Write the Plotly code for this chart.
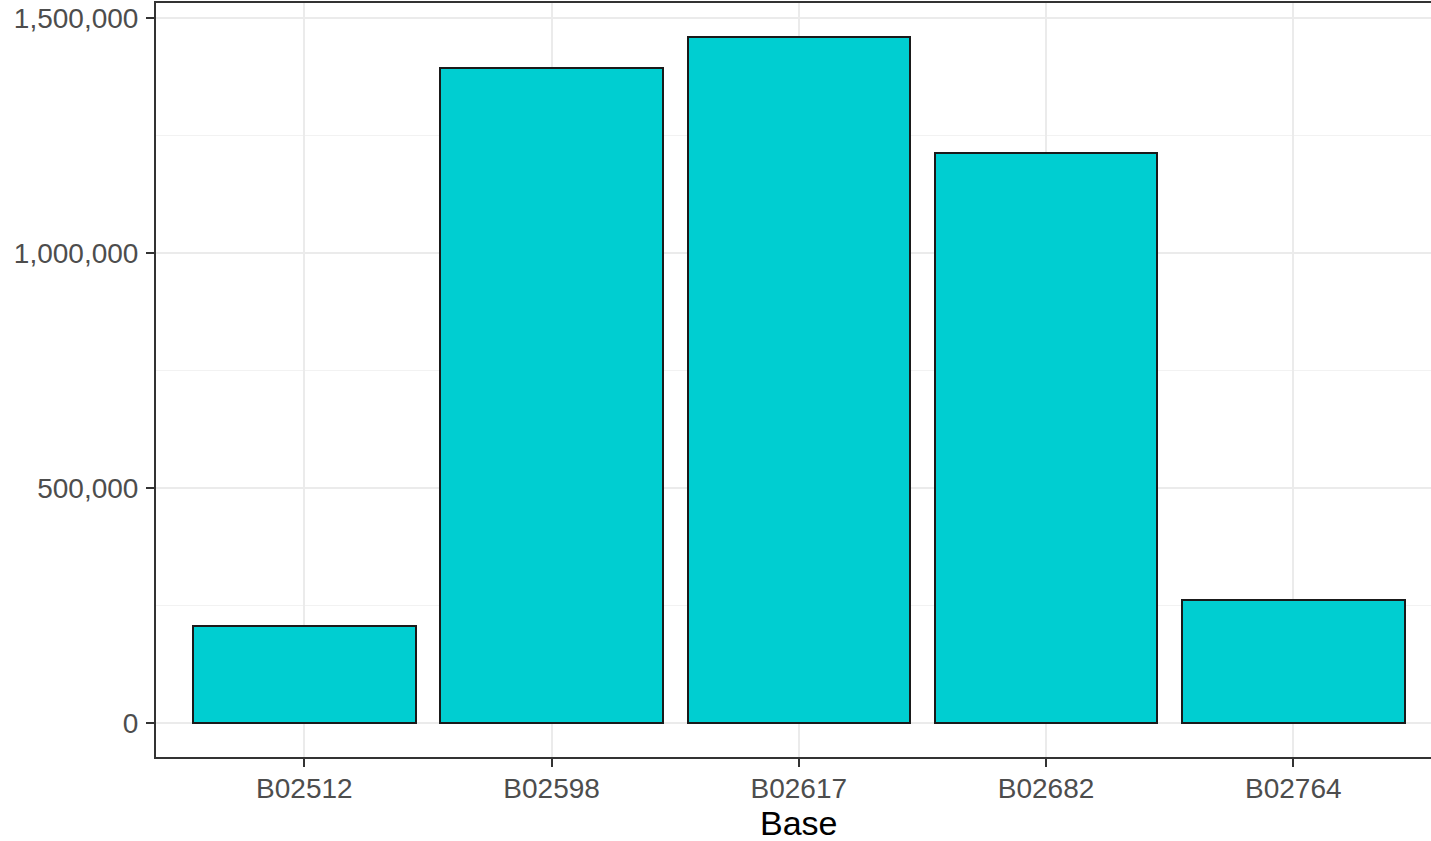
import plotly.graph_objects as go

bases = ["B02512", "B02598", "B02617", "B02682", "B02764"]
counts = [205673, 1393113, 1458853, 1212789, 262143]
x_title = "Base"

fig = go.Figure()
fig.add_trace(go.Bar(
    x=bases, y=counts, width=0.9,
    marker=dict(color="#00CED1", line=dict(color="#1a1a1a", width=2)),
))

ymax = max(counts)
pad = 0.05 * ymax

fig.update_layout(
    width=1431, height=841,
    margin=dict(l=156, r=0, t=3, b=84),
    paper_bgcolor="white", plot_bgcolor="white",
    showlegend=False,
    font=dict(family="Liberation Sans, Arial, sans-serif", size=28, color="#4D4D4D"),
    bargap=0,
)
fig.add_annotation(
    x=bases[2], xref="x", y=-0.088, yref="paper", yanchor="middle",
    text=x_title, showarrow=False, font=dict(size=34, color="black"),
)
fig.update_xaxes(
    range=[-0.6, 4.557],
    showline=True, mirror=True, linecolor="#333333", linewidth=2,
    showgrid=True, gridcolor="#EBEBEB", gridwidth=1.5,
    ticks="outside", ticklen=8, tickwidth=2, tickcolor="#333333",
    ticklabelstandoff=-3,
    tickfont=dict(size=28, color="#4D4D4D"),
)
fig.update_yaxes(
    range=[-pad, ymax + pad],
    showline=True, mirror=False, linecolor="#333333", linewidth=2,
    showgrid=True, gridcolor="#EBEBEB", gridwidth=1.5,
    zeroline=False,
    dtick=500000, tickformat=",",
    minor=dict(dtick=250000, showgrid=True, gridcolor="#F2F2F2", gridwidth=1),
    ticks="outside", ticklen=8, tickwidth=2, tickcolor="#333333",
    ticklabelstandoff=2,
    tickfont=dict(size=28, color="#4D4D4D"),
)

fig.write_html(
    "out.html",
    config={"displayModeBar": False},
    post_script="document.body.style.margin='0';document.body.style.overflow='hidden';",
)
